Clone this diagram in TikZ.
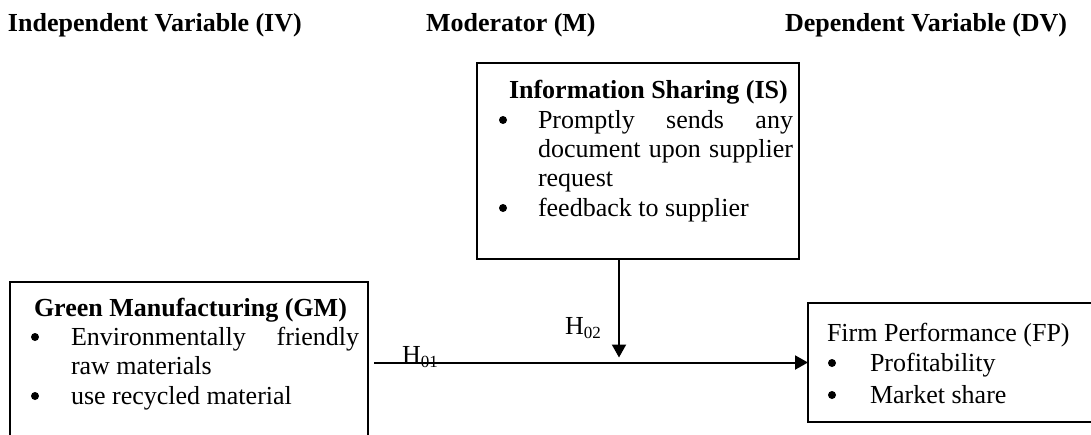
\documentclass[tikz,border=0pt]{standalone}
\usepackage{fontspec}
\setmainfont{Liberation Serif}
\usetikzlibrary{arrows.meta}
\begin{document}
\begin{tikzpicture}[x=1pt,y=-1pt,
  box/.style={draw, line width=1.3pt, inner sep=0pt, outer sep=0pt},
  txt/.style={anchor=base west, inner sep=0pt, outer sep=0pt, font=\fontsize{26}{30}\selectfont},
  ttl/.style={txt, font=\fontsize{26}{30}\selectfont\bfseries},
  hdr/.style={anchor=base west, inner sep=0pt, outer sep=0pt, font=\fontsize{26}{30}\selectfont\bfseries},
  dot/.style={circle, fill, inner sep=0pt, minimum size=8pt},
  conn/.style={line width=2pt, -{Triangle[length=13pt,width=14pt]}}]
\useasboundingbox (0,0) rectangle (1091,434);
\clip (0,0) rectangle (1091,434);
\fill[white] (0,0) rectangle (1091,434);
% headers
\node[hdr] (hiv) at (8,31) {Independent Variable (IV)};
\node[hdr] (hm) at (426,31) {Moderator (M)};
\node[hdr] (hdv) at (785,31) {Dependent Variable (DV)};
% boxes
\node[box, anchor=north west, minimum width=358pt, minimum height=220pt] (gm) at (10,282) {};
\node[box, anchor=north west, minimum width=322pt, minimum height=196pt] (is) at (477,63) {};
\node[box, anchor=north west, minimum width=330pt, minimum height=119pt] (fp) at (808,303) {};
% GM text
\node[ttl] (gmt) at (34,316) {Green Manufacturing (GM)};
\node[dot] (gmb1) at (35,337) {};
\node[txt] (gm1) at (71,345) {\makebox[288pt][s]{Environmentally friendly}};
\node[txt] (gm2) at (71,374) {raw materials};
\node[dot] (gmb2) at (35,396) {};
\node[txt] (gm3) at (71,404) {use recycled material};
% IS text
\node[ttl] (ist) at (509,98) {Information Sharing (IS)};
\node[dot] (isb1) at (503,120) {};
\node[txt] (is1) at (538,128) {\makebox[255pt][s]{Promptly sends any}};
\node[txt] (is2) at (538,157) {\makebox[255pt][s]{document upon supplier}};
\node[txt] (is3) at (538,186.5) {request};
\node[dot] (isb2) at (503,208) {};
\node[txt] (is4) at (538,216) {feedback to supplier};
% FP text
\node[txt] (fpt) at (827,341) {Firm Performance (FP)};
\node[dot] (fpb1) at (832,363) {};
\node[txt] (fp1) at (870,371) {Profitability};
\node[dot] (fpb2) at (832,395) {};
\node[txt] (fp2) at (870,403) {Market share};
% connectors
\coordinate (hs) at (374,362.5);
\coordinate (vx) at (619,0);
\draw[conn] (hs) -- (fp.west);
\draw[conn] (is.south -| vx) -- ([yshift=5pt]hs -| vx);
% labels
\node[txt] (h01) at (402,363) {H\raisebox{-4pt}{\fontsize{17}{17}\selectfont 01}};
\node[txt] (h02) at (565,334) {H\raisebox{-4pt}{\fontsize{17}{17}\selectfont 02}};
\end{tikzpicture}
\end{document}
